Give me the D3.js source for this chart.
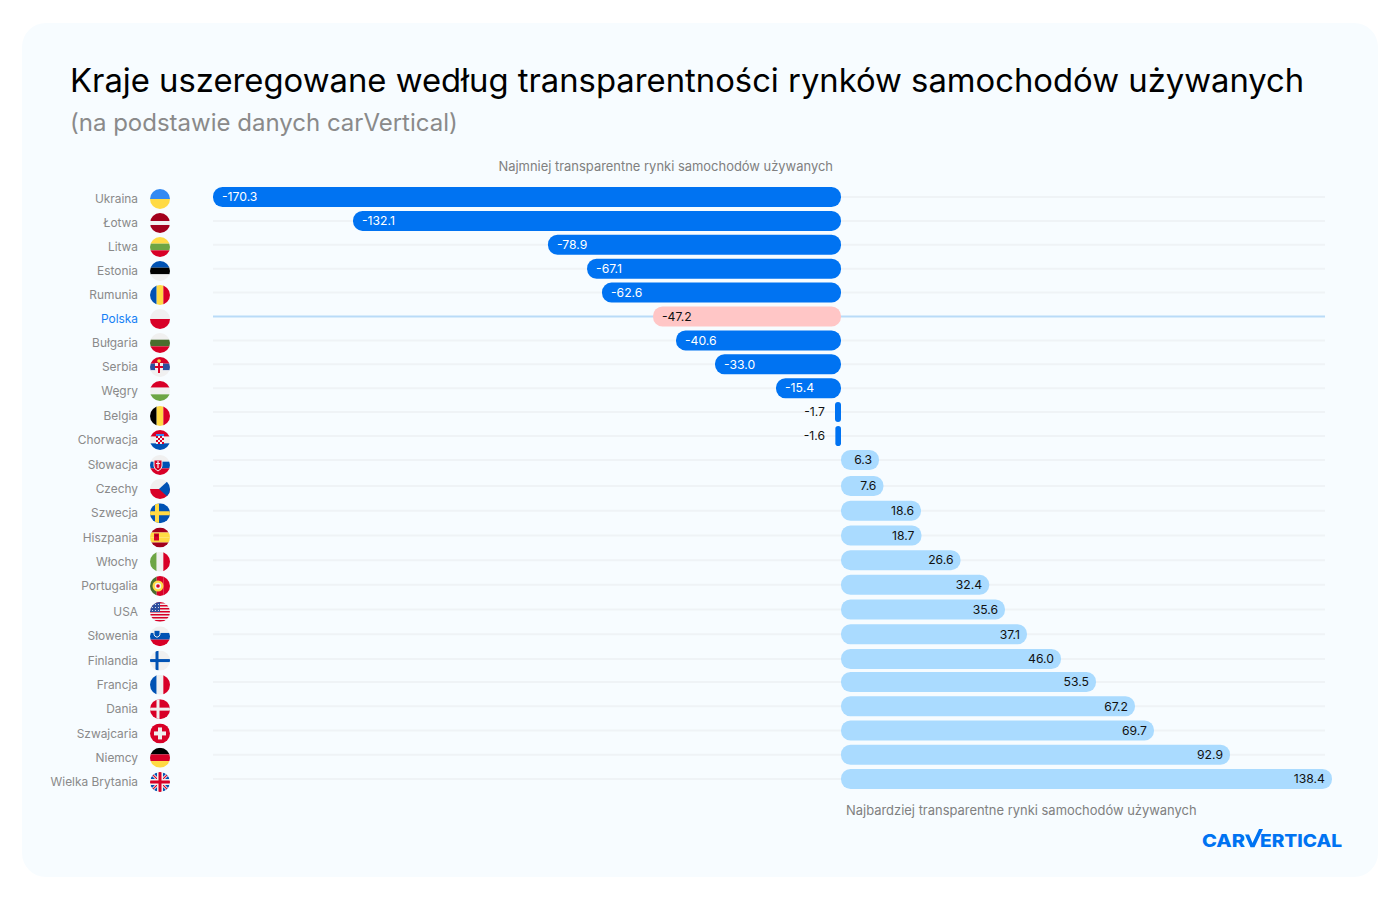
<!DOCTYPE html>
<html lang="pl">
<head>
<meta charset="utf-8">
<title>Kraje uszeregowane według transparentności</title>
<script src="https://cdn.jsdelivr.net/npm/d3@7"></script>
<style>
  html, body { margin: 0; background: #fff; }
  svg { display: block; font-family: Inter, "Noto Sans", sans-serif; }
</style>
</head>
<body>
<svg id="chart" width="1400" height="900"></svg>
<script>
const countries = ["Ukraina", "Łotwa", "Litwa", "Estonia", "Rumunia", "Polska", "Bułgaria", "Serbia", "Węgry", "Belgia", "Chorwacja", "Słowacja", "Czechy", "Szwecja", "Hiszpania", "Włochy", "Portugalia", "USA", "Słowenia", "Finlandia", "Francja", "Dania", "Szwajcaria", "Niemcy", "Wielka Brytania"];
const values = [-170.3, -132.1, -78.9, -67.1, -62.6, -47.2, -40.6, -33.0, -15.4, -1.7, -1.6, 6.3, 7.6, 18.6, 18.7, 26.6, 32.4, 35.6, 37.1, 46.0, 53.5, 67.2, 69.7, 92.9, 138.4];
const flagStripes = [
  ["h", "#338af3", "#ffda44"],
  ["h", "#a2001d", "#a2001d", "#f0f0f0", "#a2001d", "#a2001d"],
  ["h", "#ffda44", "#6da544", "#d80027"],
  ["h", "#0052b4", "#000000", "#f0f0f0"],
  ["v", "#0052b4", "#ffda44", "#d80027"],
  ["h", "#f0f0f0", "#d80027"],
  ["h", "#f0f0f0", "#496e2d", "#d80027"],
  ["h", "#d80027", "#2d4f9e", "#f0f0f0"],
  ["h", "#d80027", "#f0f0f0", "#6da544"],
  ["v", "#000000", "#ffda44", "#d80027"],
  ["h", "#d80027", "#f0f0f0", "#0052b4"],
  ["h", "#f0f0f0", "#0052b4", "#d80027"],
  ["h", "#f0f0f0", "#d80027"],
  ["h", "#0052b4"],
  ["h", "#a2001d", "#ffda44", "#ffda44", "#a2001d"],
  ["v", "#6da544", "#f0f0f0", "#d80027"],
  ["v", "#496e2d", "#d80027", "#d80027"],
  ["h", "#f0f0f0"],
  ["h", "#f0f0f0", "#0052b4", "#d80027"],
  ["h", "#f0f0f0"],
  ["v", "#0052b4", "#f0f0f0", "#d80027"],
  ["h", "#d80027"],
  ["h", "#d80027"],
  ["h", "#000000", "#d80027", "#ffda44"],
  ["h", "#f0f0f0"]
];

const BLUE = "#0073f2";
const LIGHT = "#aadbff";
const PINK = "#ffc6c6";
const HIGHLIGHT = "Polska";

const svg = d3.select("#chart");
const defs = svg.append("defs");

// the bars in the picture are not strictly proportional, so the scale has knots
const x = d3.scaleLinear()
  .domain([-170.3, -78.9, -47.2, -40.6, -33, -15.4, -1.7, 0, 6.3, 18.6, 35.6, 37.1, 46, 53.5, 67.2, 69.7, 92.9, 138.4])
  .range([213, 548, 653, 676, 715, 776, 835, 841, 879, 921, 1005, 1027, 1061, 1096, 1135, 1154, 1230, 1332]);
const rowY = d3.scaleLinear()
  .domain([0, 10, 11, 12, 19, 20, 24])
  .range([197, 436, 460, 486, 659, 682, 779]);
const flagY = d3.scaleLinear()
  .domain([0, 8, 9, 10, 11, 12, 16, 17, 24])
  .range([199, 391, 416, 440, 465, 489, 586, 612, 782]);

const rows = countries.map((name, i) => ({ name, value: values[i], i, stripes: flagStripes[i] }));

svg.append("rect")
  .attr("x", 22).attr("y", 23).attr("width", 1356).attr("height", 854)
  .attr("rx", 24).attr("fill", "#f7fcff");

svg.append("text").attr("x", 70).attr("y", 92)
  .attr("font-size", 32.8).attr("fill", "#000")
  .text("Kraje uszeregowane według transparentności rynków samochodów używanych");
svg.append("text").attr("x", 70).attr("y", 131)
  .attr("font-size", 24).attr("fill", "#8a8a8a")
  .text("(na podstawie danych carVertical)");
svg.append("text").attr("x", 833).attr("y", 171)
  .attr("font-size", 12.95).attr("text-anchor", "end").attr("fill", "#808080")
  .text("Najmniej transparentne rynki samochodów używanych");
svg.append("text").attr("x", 846).attr("y", 815)
  .attr("font-size", 12.95).attr("fill", "#808080")
  .text("Najbardziej transparentne rynki samochodów używanych");

svg.append("g").selectAll("line").data(rows).join("line")
  .attr("x1", 213).attr("x2", 1325)
  .attr("y1", (d) => rowY(d.i)).attr("y2", (d) => rowY(d.i))
  .attr("stroke", (d) => d.name === HIGHLIGHT ? "#b9dbf8" : "#eff3f6")
  .attr("stroke-width", 2);

svg.append("g").selectAll("text").data(rows).join("text")
  .attr("x", 138).attr("y", (d) => flagY(d.i)).attr("dy", "0.35em")
  .attr("text-anchor", "end").attr("font-size", 11.9)
  .attr("fill", (d) => d.name === HIGHLIGHT ? "#1580f5" : "#8a8a8a")
  .text((d) => d.name);

function drawFlagDetail(g, name) {
  const rect = (rx, ry, w, h, fill) => g.append("rect").attr("x", rx).attr("y", ry).attr("width", w).attr("height", h).attr("fill", fill);
  const dot = (cx, cy, r, fill) => g.append("circle").attr("cx", cx).attr("cy", cy).attr("r", r).attr("fill", fill);
  if (name === "Szwecja") {
    rect(-5, -10, 4, 20, "#ffda44");
    rect(-10, -2, 20, 4, "#ffda44");
  } else if (name === "Finlandia") {
    rect(-4.5, -10, 3, 20, "#0052b4");
    rect(-10, -1.5, 20, 3, "#0052b4");
  } else if (name === "Dania") {
    rect(-3.5, -10, 3, 20, "#f0f0f0");
    rect(-10, -1.5, 20, 3, "#f0f0f0");
  } else if (name === "Szwajcaria") {
    rect(-2, -6, 4, 12, "#f0f0f0");
    rect(-6, -2, 12, 4, "#f0f0f0");
  } else if (name === "Czechy") {
    g.append("path").attr("d", "M10,-10L-1,0L10,10Z").attr("fill", "#0052b4");
  } else if (name === "Hiszpania") {
    rect(-6, -4, 5, 7, "#d80027");
    rect(-5, -3, 3, 2, "#a2001d");
  } else if (name === "Portugalia") {
    dot(-2, 0, 5.5, "#ffda44");
    dot(-2, 0, 3.2, "#f0f0f0");
    dot(-2, 0, 1.8, "#d80027");
  } else if (name === "Słowacja") {
    g.append("path").attr("d", "M-6,-5H2V1Q2,4 -2,6Q-6,4 -6,1Z").attr("fill", "#d80027").attr("stroke", "#f0f0f0");
    rect(-2.6, -4, 1.2, 7, "#f0f0f0");
    rect(-4, -2, 4, 1, "#f0f0f0");
  } else if (name === "Słowenia") {
    g.append("path").attr("d", "M-6,-6H0V-2Q0,0 -3,1Q-6,0 -6,-2Z").attr("fill", "#0052b4").attr("stroke", "#f0f0f0");
  } else if (name === "Serbia") {
    g.append("path").attr("d", "M-5,-4H3V2Q3,5 -1,7Q-5,5 -5,2Z").attr("fill", "#f0f0f0");
    rect(-2, -4, 2, 10, "#d80027");
    rect(-5, -1, 8, 2, "#d80027");
    dot(-1, -6, 1.8, "#ffda44");
  } else if (name === "Chorwacja") {
    rect(-4, -4, 8, 8, "#f0f0f0");
    d3.range(4).forEach((col) => d3.range(4).forEach((r) => {
      if ((col + r) % 2 === 0) rect(-4 + col * 2, -4 + r * 2, 2, 2, "#d80027");
    }));
    rect(-4, -6, 8, 2, "#338af3");
  } else if (name === "USA") {
    d3.range(7).forEach((s) => rect(-10, -10 + s * 3, 20, 1.5, "#d80027"));
    rect(-10, -10, 10, 10, "#2d4f9e");
    d3.range(3).forEach((col) => d3.range(3).forEach((r) => dot(-7.5 + col * 3, -7.5 + r * 3, 0.6, "#f0f0f0")));
  } else if (name === "Wielka Brytania") {
    g.append("path").attr("d", "M-10,-10L10,10M10,-10L-10,10").attr("stroke", "#0052b4").attr("stroke-width", 8);
    g.append("path").attr("d", "M-10,-10L10,10M10,-10L-10,10").attr("stroke", "#f0f0f0").attr("stroke-width", 3);
    g.append("path").attr("d", "M-10,-10L10,10M10,-10L-10,10").attr("stroke", "#d80027").attr("stroke-width", 1.2);
    rect(-3, -10, 6, 20, "#f0f0f0");
    rect(-10, -3, 20, 6, "#f0f0f0");
    rect(-1.5, -10, 3, 20, "#d80027");
    rect(-10, -1.5, 20, 3, "#d80027");
  }
}

rows.forEach((d) => {
  defs.append("clipPath").attr("id", `flag-clip-${d.i}`)
    .append("circle").attr("r", 10);
});

const flags = svg.append("g").selectAll("g").data(rows).join("g")
  .attr("transform", (d) => `translate(160,${flagY(d.i)})`)
  .attr("clip-path", (d) => `url(#flag-clip-${d.i})`);

flags.each(function (d) {
  const g = d3.select(this);
  const [dir, ...fills] = d.stripes;
  const band = d3.scaleBand().domain(d3.range(fills.length)).range([-10, 10]);
  fills.forEach((fill, k) => {
    if (dir === "h") {
      g.append("rect").attr("x", -10).attr("y", band(k)).attr("width", 20).attr("height", band.bandwidth()).attr("fill", fill);
    } else {
      g.append("rect").attr("x", band(k)).attr("y", -10).attr("width", band.bandwidth()).attr("height", 20).attr("fill", fill);
    }
  });
  drawFlagDetail(g, d.name);
});

const barFill = (d) => d.name === HIGHLIGHT ? PINK : d.value < 0 ? BLUE : LIGHT;

svg.append("g").selectAll("rect").data(rows).join("rect")
  .attr("x", (d) => Math.min(x(d.value), x(0)))
  .attr("y", (d) => rowY(d.i) - 10)
  .attr("width", (d) => Math.abs(x(d.value) - x(0)))
  .attr("height", 20)
  .attr("rx", (d) => Math.min(9.5, Math.abs(x(d.value) - x(0)) / 2))
  .attr("fill", barFill);

svg.append("g").selectAll("text").data(rows).join("text")
  .attr("x", (d) => {
    if (Math.abs(d.value) < 2) return 825;
    return d.value < 0 ? x(d.value) + 9 : x(d.value) - 7;
  })
  .attr("y", (d) => rowY(d.i)).attr("dy", "0.35em")
  .attr("text-anchor", (d) => d.value < 0 && Math.abs(d.value) >= 2 ? "start" : "end")
  .attr("font-size", 12.2)
  .attr("fill", (d) => d.value < 0 && Math.abs(d.value) >= 2 && d.name !== HIGHLIGHT ? "#fff" : "#111")
  .text((d) => d.value.toFixed(1));

// logo
const logo = svg.append("g").attr("fill", BLUE).attr("font-size", 17.5).attr("font-weight", 800);
logo.append("text").attr("x", 1202).attr("y", 847)
  .attr("textLength", 43).attr("lengthAdjust", "spacingAndGlyphs")
  .text("CAR");
logo.append("text").attr("x", 1260).attr("y", 847)
  .attr("textLength", 82).attr("lengthAdjust", "spacingAndGlyphs")
  .text("ERTICAL");
logo.append("path").attr("d", "M1245,834.5L1249,834.5L1252.5,843L1259,829L1263,829L1254.5,847.2L1250.5,847.2Z");
</script>
</body>
</html>
